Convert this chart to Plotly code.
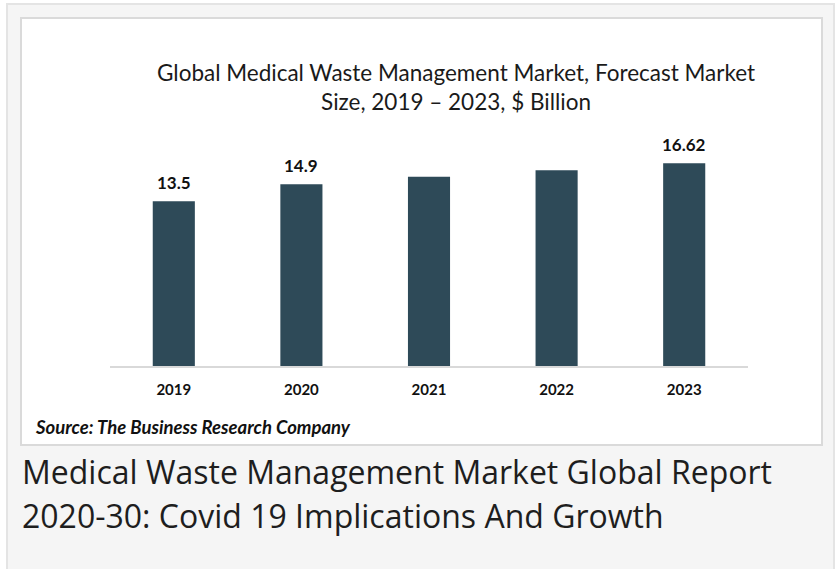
import plotly.graph_objects as go

W, H = 836, 569

years = ["2019", "2020", "2021", "2022", "2023"]
market_size = [13.5, 14.9, 15.5, 16.05, 16.62]
value_labels = ["13.5", "14.9", "", "", "16.62"]

title_text = "Global Medical Waste Management Market, Forecast Market<br>Size, 2019 – 2023, $ Billion"
source_text = "<b><i>Source: The Business Research Company</i></b>"
caption_lines = ["Medical Waste Management Market Global Report",
                 "2020-30: Covid 19 Implications And Growth"]

BAR = "#2E4A58"
CHART_FONT = "Lato"


def px(x):
    return x / W


def py(y):
    return 1 - y / H


fig = go.Figure()
fig.add_trace(go.Bar(x=years, y=market_size, marker=dict(color=BAR, line=dict(width=0)),
                     hoverinfo="x+y"))

annotations = []
for i, (v, lab) in enumerate(zip(market_size, value_labels)):
    if lab:
        # category axis: x given as the category's serial index
        annotations.append(dict(x=i, y=v, xref="x", yref="y", text=f"<b>{lab}</b>",
                                showarrow=False, yanchor="bottom", yshift=6,
                                font=dict(family=CHART_FONT, size=17, color="#111111")))

annotations += [
    dict(x=px(456), y=py(57), xref="paper", yref="paper", text=title_text, showarrow=False,
         xanchor="center", yanchor="top", align="center",
         font=dict(family=CHART_FONT, size=22.5, color="#1a1a1a")),
    dict(x=px(33), y=py(427), xref="paper", yref="paper", text=source_text, showarrow=False,
         xanchor="left", yanchor="middle",
         font=dict(family=CHART_FONT, size=18.5, color="#111111")),
]
for i, line in enumerate(caption_lines):
    annotations.append(dict(x=px(20), y=py(471 + 44 * i), xref="paper", yref="paper", text=line,
                            showarrow=False, xanchor="left", yanchor="middle", align="left",
                            font=dict(family="Open Sans", size=32, color="#1e1e1e")))

shapes = [
    dict(type="rect", xref="paper", yref="paper", x0=px(7), x1=px(834), y0=-0.2, y1=py(4),
         fillcolor="#f5f5f5", line=dict(color="#e4e4e4", width=2), layer="below"),
    dict(type="rect", xref="paper", yref="paper", x0=px(21), x1=px(822), y0=py(445), y1=py(18),
         fillcolor="#ffffff", line=dict(color="#dadada", width=2), layer="below"),
]

fig.update_layout(
    width=W, height=H,
    margin=dict(l=0, r=0, t=0, b=0, autoexpand=False),
    paper_bgcolor="#ffffff",
    plot_bgcolor="rgba(0,0,0,0)",
    showlegend=False,
    bargap=0.67,
    annotations=annotations,
    shapes=shapes,
    xaxis=dict(type="category", range=[-0.5, 4.5], domain=[px(110), px(748)], showline=True,
               linecolor="#d9d9d9", linewidth=1.5, showgrid=False, zeroline=False, ticks="",
               ticklabelstandoff=9, automargin=False,
               tickfont=dict(family=CHART_FONT, size=15, color="#111111"),
               tickprefix="<b>", ticksuffix="</b>", fixedrange=True),
    yaxis=dict(domain=[py(366), py(140)], range=[0, 18.52], visible=False, fixedrange=True),
)

fig.write_html("out.html", config={"displayModeBar": False},
               post_script="document.body.style.margin='0';document.body.style.overflow='hidden';")
